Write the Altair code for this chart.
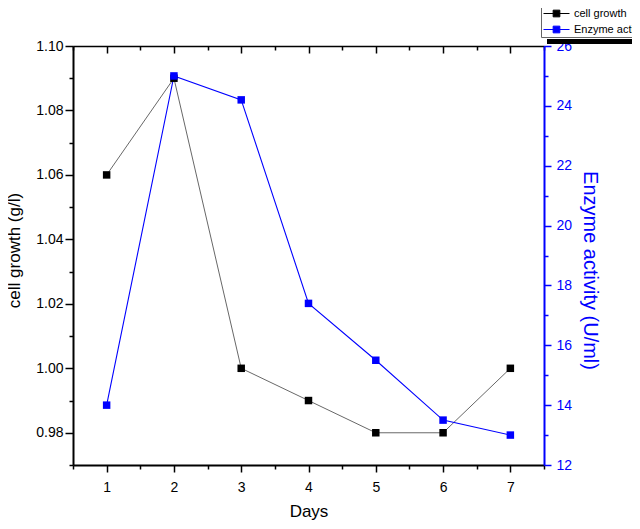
import altair as alt
import pandas as pd

# ---- data ----
days = [1, 2, 3, 4, 5, 6, 7]
cell_growth = [1.06, 1.09, 1.00, 0.99, 0.98, 0.98, 1.00]
enzyme_activity = [14.0, 25.0, 24.2, 17.4, 15.5, 13.5, 13.0]
series_names = ["cell growth", "Enzyme activity"]
series_colors = ["black", "#0000ff"]

x_major = [1, 2, 3, 4, 5, 6, 7]
x_minor = [0.5, 1.5, 2.5, 3.5, 4.5, 5.5, 6.5, 7.5]
left_major = [0.98, 1.00, 1.02, 1.04, 1.06, 1.08, 1.10]
left_minor = [0.97, 0.99, 1.01, 1.03, 1.05, 1.07, 1.09]
right_major = [12, 14, 16, 18, 20, 22, 24, 26]
right_minor = [13, 15, 17, 19, 21, 23, 25]

df = pd.DataFrame({"day": days, "cell": cell_growth, "enzyme": enzyme_activity})

FONT = "Liberation Sans"
W, H = 471, 419
BLUE = "#0000ff"

xs = alt.Scale(domain=[0.5, 7.5], nice=False, zero=False)
ys_left = alt.Scale(domain=[0.97, 1.10], nice=False, zero=False)
ys_right = alt.Scale(domain=[12, 26], nice=False, zero=False)

LEG_PATH = "M-2.6,0H2.6M-0.67,-0.67H0.67V0.67H-0.67Z"
color = alt.Color(
    "series:N",
    scale=alt.Scale(domain=series_names, range=series_colors),
    legend=alt.Legend(
        orient="none", legendX=468, legendY=-40, title=None,
        symbolType=LEG_PATH, symbolSize=100, symbolStrokeWidth=1,
        symbolOffset=8, labelOffset=12, labelFont=FONT, labelFontSize=11,
        labelColor="black", strokeColor="#666666", fillColor="white",
        padding=2, rowPadding=4, direction="vertical",
    ),
)

def ax(**kw):
    base = dict(grid=False, labelFont=FONT, titleFont=FONT, titleFontWeight="normal")
    base.update(kw)
    return alt.Axis(**base)

x_bottom_major = ax(orient="bottom", values=x_major, format="d", tickSize=7, tickWidth=1.5,
                    domainWidth=2, domainColor="black", tickColor="black",
                    labelFontSize=14, labelColor="black", labelPadding=8,
                    title="Days", titleFontSize=17, titleColor="black", titlePadding=9)
x_bottom_minor = ax(orient="bottom", values=x_minor, tickSize=4, tickWidth=1.5,
                    tickColor="black", domain=False, labels=False, title=None)
x_top_major = ax(orient="bottom", offset=-H, values=x_major, tickSize=7, tickWidth=1.5,
                 tickColor="black", domainColor="black", domainWidth=1.5,
                 labels=False, title=None)
x_top_minor = ax(orient="bottom", offset=-H, values=x_minor, tickSize=4, tickWidth=1.5,
                 tickColor="black", domain=False, labels=False, title=None)

y_left_major = ax(orient="left", values=left_major, format=".2f", tickSize=8, tickWidth=1.5,
                  domainWidth=2, domainColor="black", tickColor="black",
                  labelFontSize=14, labelColor="black", labelPadding=2,
                  title="cell growth (g/l)", titleFontSize=17, titleColor="black",
                  titlePadding=12, titleY=204)
y_left_minor = ax(orient="left", values=left_minor, tickSize=4, tickWidth=1.5,
                  tickColor="black", domain=False, labels=False, title=None)
y_right_major = ax(orient="right", values=right_major, format="d", tickSize=7, tickWidth=1.5,
                   domainWidth=2, domainColor=BLUE, tickColor=BLUE,
                   labelFontSize=14, labelColor=BLUE, labelPadding=5,
                   title="Enzyme activity (U/ml)", titleFontSize=20, titleColor=BLUE,
                   titlePadding=8, titleY=224, titleAngle=90)
y_right_minor = ax(orient="right", values=right_minor, tickSize=4, tickWidth=1.5,
                   tickColor=BLUE, domain=False, labels=False, title=None)

base = alt.Chart(df)

cell_line = base.transform_calculate(series="'cell growth'").mark_line(
    strokeWidth=0.6
).encode(
    x=alt.X("day:Q", scale=xs, axis=x_bottom_major),
    y=alt.Y("cell:Q", scale=ys_left, axis=y_left_major),
    color=color,
)
cell_pts = base.transform_calculate(series="'cell growth'").mark_square(
    size=56, opacity=1, filled=True
).encode(
    x=alt.X("day:Q", scale=xs, axis=None),
    y=alt.Y("cell:Q", scale=ys_left, axis=None),
    color=color,
)
enz_line = base.transform_calculate(series="'Enzyme activity'").mark_line(
    strokeWidth=1.1
).encode(
    x=alt.X("day:Q", scale=xs, axis=x_bottom_minor),
    y=alt.Y("enzyme:Q", scale=ys_right, axis=y_right_major),
    color=color,
)
enz_pts = base.transform_calculate(series="'Enzyme activity'").mark_square(
    size=56, opacity=1, filled=True
).encode(
    x=alt.X("day:Q", scale=xs, axis=None),
    y=alt.Y("enzyme:Q", scale=ys_right, axis=None),
    color=color,
)
helper1 = base.mark_point(opacity=0).encode(
    x=alt.X("day:Q", scale=xs, axis=x_top_major),
    y=alt.Y("cell:Q", scale=ys_left, axis=y_left_minor),
)
helper2 = base.mark_point(opacity=0).encode(
    x=alt.X("day:Q", scale=xs, axis=x_top_minor),
    y=alt.Y("enzyme:Q", scale=ys_right, axis=y_right_minor),
)

# legend drop shadow (decoration)
shadow = base.mark_rect(color="black").encode(
    x=alt.value(474), x2=alt.value(600), y=alt.value(-7), y2=alt.value(-2)
).transform_filter("datum.day == 1")

chart = alt.layer(
    helper1, helper2, shadow, cell_line, enz_line, cell_pts, enz_pts
).resolve_scale(y="independent").resolve_axis(x="independent", y="independent").properties(
    width=W, height=H,
    autosize=alt.AutoSizeParams(type="none"),
    padding={"left": 65, "top": 38, "right": 88, "bottom": 56},
).configure_view(stroke=None).configure(background="white")

chart.save("out.html", embed_options={"renderer": "svg", "actions": False})
